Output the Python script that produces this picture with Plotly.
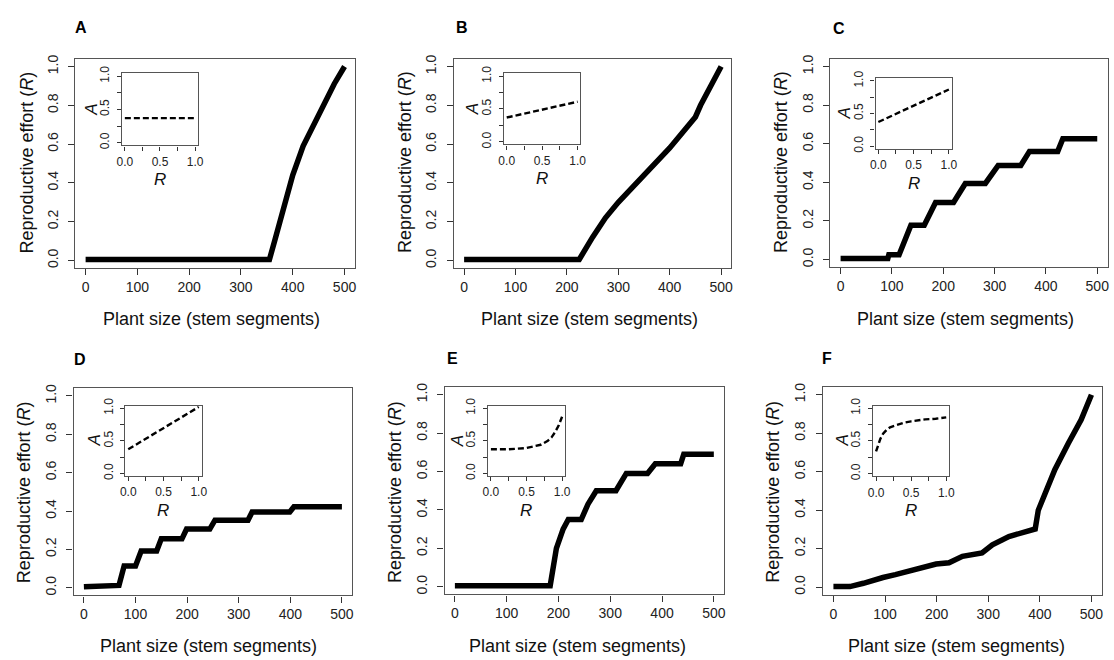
import plotly.graph_objects as go

W, H = 1114, 660

# ---------------- data ----------------
panel_letters = ["A", "B", "C", "D", "E", "F"]
x_ticks = [0, 100, 200, 300, 400, 500]
y_ticks = [0.0, 0.2, 0.4, 0.6, 0.8, 1.0]
y_tick_text = ["0.0", "0.2", "0.4", "0.6", "0.8", "1.0"]
inset_ticks = [0.0, 0.25, 0.5, 0.75, 1.0]
inset_tick_text = ["0.0", "", "0.5", "", "1.0"]

size_a = [0, 355, 365, 375, 388, 400, 420, 440, 460, 480, 500]
re_a = [0.005, 0.005, 0.1, 0.2, 0.33, 0.44, 0.59, 0.70, 0.81, 0.91, 1.0]

size_b = [0, 224, 250, 275, 300, 325, 350, 375, 400, 425, 450, 460, 475, 500]
re_b = [0.005, 0.005, 0.12, 0.22, 0.30, 0.37, 0.43, 0.50, 0.58, 0.66, 0.74, 0.80, 0.875, 1.0]

size_c = [0, 92, 94, 114, 137, 163, 185, 220, 243, 282, 307, 351, 368, 423, 433, 500]
re_c = [0.005, 0.005, 0.025, 0.025, 0.178, 0.178, 0.295, 0.295, 0.394, 0.394,
        0.487, 0.487, 0.56, 0.56, 0.626, 0.626]

size_d = [0, 52, 55, 68, 78, 100, 111, 141, 150, 190, 199, 244, 254, 318, 326, 399, 407, 500]
re_d = [0.005, 0.005, 0.012, 0.012, 0.114, 0.114, 0.192, 0.192, 0.255, 0.255,
        0.306, 0.306, 0.352, 0.352, 0.395, 0.395, 0.422, 0.422]

size_e = [0, 184, 196, 209, 219, 244, 257, 273, 311, 331, 372, 387, 436, 442, 500]
re_e = [0.005, 0.005, 0.2, 0.3, 0.35, 0.35, 0.43, 0.5, 0.5, 0.59, 0.59, 0.64, 0.64, 0.69, 0.69]

size_f = [0, 32, 58, 75, 96, 120, 147, 175, 199, 224, 250, 288, 308, 340, 365, 391, 397,
          429, 455, 480, 500]
re_f = [0.003, 0.003, 0.02, 0.035, 0.05, 0.065, 0.085, 0.105, 0.12, 0.127, 0.16, 0.178,
        0.22, 0.263, 0.285, 0.302, 0.40, 0.61, 0.746, 0.87, 1.0]

ins_r_a = [0.0, 1.0]
ins_a_a = [0.37, 0.37]
ins_r_b = [0.0, 1.0]
ins_a_b = [0.37, 0.61]
ins_r_c = [0.0, 1.0]
ins_a_c = [0.37, 0.87]
ins_r_d = [0.0, 1.0]
ins_a_d = [0.37, 1.02]
ins_r_e = [0.0, 0.25, 0.5, 0.6, 0.7, 0.8, 0.85, 0.9, 0.95, 1.0]
ins_a_e = [0.37, 0.37, 0.39, 0.41, 0.44, 0.50, 0.55, 0.63, 0.73, 0.87]
ins_r_f = [0.0, 0.03, 0.06, 0.1, 0.15, 0.2, 0.3, 0.4, 0.5, 0.7, 0.85, 1.0]
ins_a_f = [0.34, 0.45, 0.53, 0.61, 0.67, 0.71, 0.75, 0.78, 0.80, 0.83, 0.84, 0.86]

main_data = [(size_a, re_a), (size_b, re_b), (size_c, re_c),
             (size_d, re_d), (size_e, re_e), (size_f, re_f)]
inset_data = [(ins_r_a, ins_a_a), (ins_r_b, ins_a_b), (ins_r_c, ins_a_c),
              (ins_r_d, ins_a_d), (ins_r_e, ins_a_e), (ins_r_f, ins_a_f)]

# ---------------- layout geometry (pixels) ----------------
main_boxes = [  # left, right, top, bottom
    (70, 352.7, 51.7, 265),
    (452.7, 733.3, 51.7, 265),
    (833.3, 1113.5, 51.7, 264),
    (68.3, 350, 387.3, 598.3),
    (443.3, 726, 386, 597.3),
    (826, 1107.7, 386, 597.7),
]
inset_boxes = [
    (117.3, 194, 66.7, 140),
    (503.3, 580.7, 66.7, 139),
    (879, 956, 71.7, 143.3),
    (120.7, 197.7, 405, 476.7),
    (487.3, 565, 405, 476.7),
    (876.7, 953.3, 405, 477),
]
letter_pos = [(76, 20), (460.7, 20), (841.7, 21), (75, 358), (451.7, 357), (830, 357)]
xtitle_pos = [(208, 316.7), (590, 316.7), (970, 316.7), (205, 650), (577.5, 650), (960.7, 650)]
ytitle_pos = [(21.7, 157), (403.3, 157), (783.3, 157), (18.3, 493), (393.3, 493), (775, 493)]

FONT = "Liberation Sans, Arial, Helvetica, sans-serif"
BOX = "#555555"
TICK = "#333333"


def fx(px):
    return px / W


def fy(py):
    return 1 - py / H


fig = go.Figure()
layout = dict(
    width=W, height=H, autosize=False,
    margin=dict(l=0, r=0, t=0, b=0, pad=0),
    paper_bgcolor="white", plot_bgcolor="white",
    showlegend=False,
    font=dict(family=FONT, color="#111111"),
)

annotations = []

for i in range(6):
    n = i + 1
    l, r, t, b = main_boxes[i]
    xs, ys = main_data[i]
    fig.add_trace(go.Scatter(x=xs, y=ys, mode="lines",
                             line=dict(color="black", width=5.5),
                             xaxis=f"x{n}", yaxis=f"y{n}", hoverinfo="skip"))
    layout[f"xaxis{n}"] = dict(
        domain=[fx(l), fx(r)], range=[-20, 520], anchor=f"y{n}",
        tickvals=x_ticks, ticks="outside", ticklen=6, tickwidth=1, tickcolor=TICK,
        showline=True, mirror=True, linecolor=BOX, linewidth=1.2,
        showgrid=False, zeroline=False, ticklabelstandoff=0,
        tickfont=dict(size=14, family=FONT, color="#222222"),
    )
    layout[f"yaxis{n}"] = dict(
        domain=[fy(b), fy(t)], range=[-0.04, 1.04], anchor=f"x{n}",
        tickvals=y_ticks, ticktext=y_tick_text, tickangle=-90,
        ticks="outside", ticklen=6, tickwidth=1, tickcolor=TICK,
        showline=True, mirror=True, linecolor=BOX, linewidth=1.2,
        showgrid=False, zeroline=False, ticklabelstandoff=5,
        tickfont=dict(size=14, family=FONT, color="#222222"),
    )

    # inset
    m = i + 7
    il, ir, it, ib = inset_boxes[i]
    rs, avals = inset_data[i]
    fig.add_trace(go.Scatter(x=rs, y=avals, mode="lines",
                             line=dict(color="black", width=2.4, dash="6px,3px"),
                             xaxis=f"x{m}", yaxis=f"y{m}", hoverinfo="skip"))
    layout[f"xaxis{m}"] = dict(
        domain=[fx(il), fx(ir)], range=[-0.04, 1.04], anchor=f"y{m}",
        tickvals=inset_ticks, ticktext=inset_tick_text,
        ticks="outside", ticklen=4, tickwidth=1, tickcolor=TICK,
        showline=True, mirror=True, linecolor=BOX, linewidth=1.1,
        showgrid=False, zeroline=False, ticklabelstandoff=1,
        tickfont=dict(size=12, family=FONT, color="#222222"),
    )
    layout[f"yaxis{m}"] = dict(
        domain=[fy(ib), fy(it)], range=[-0.04, 1.04], anchor=f"x{m}",
        tickvals=inset_ticks, ticktext=inset_tick_text, tickangle=-90,
        ticks="outside", ticklen=4, tickwidth=1, tickcolor=TICK,
        showline=True, mirror=True, linecolor=BOX, linewidth=1.1,
        showgrid=False, zeroline=False, ticklabelstandoff=3,
        tickfont=dict(size=12, family=FONT, color="#222222"),
    )

    # texts
    lx, ly = letter_pos[i]
    annotations.append(dict(text=f"<b>{panel_letters[i]}</b>", x=fx(lx), y=fy(ly),
                            xref="paper", yref="paper", showarrow=False,
                            xanchor="center", yanchor="middle",
                            font=dict(size=16, family=FONT, color="black")))
    tx, ty = xtitle_pos[i]
    annotations.append(dict(text="Plant size (stem segments)", x=fx(tx), y=fy(ty),
                            xref="paper", yref="paper", showarrow=False,
                            xanchor="center", yanchor="middle",
                            font=dict(size=18, family=FONT, color="#111111")))
    vx, vy = ytitle_pos[i]
    annotations.append(dict(text="Reproductive effort (<i>R</i>)", x=fx(vx), y=fy(vy),
                            xref="paper", yref="paper", showarrow=False, textangle=-90,
                            xanchor="center", yanchor="middle",
                            font=dict(size=18, family=FONT, color="#111111")))
    annotations.append(dict(text="<i>A</i>", x=fx(il - 31), y=fy((it + ib) / 2),
                            xref="paper", yref="paper", showarrow=False, textangle=-90,
                            xanchor="center", yanchor="middle",
                            font=dict(size=17, family=FONT, color="#111111")))
    annotations.append(dict(text="<i>R</i>", x=fx((il + ir) / 2), y=fy(ib + 35),
                            xref="paper", yref="paper", showarrow=False,
                            xanchor="center", yanchor="middle",
                            font=dict(size=17, family=FONT, color="#111111")))

layout["annotations"] = annotations
fig.update_layout(**layout)

fig.write_html("out.html", config={"displayModeBar": False},
               post_script="document.body.style.margin='0px';")
